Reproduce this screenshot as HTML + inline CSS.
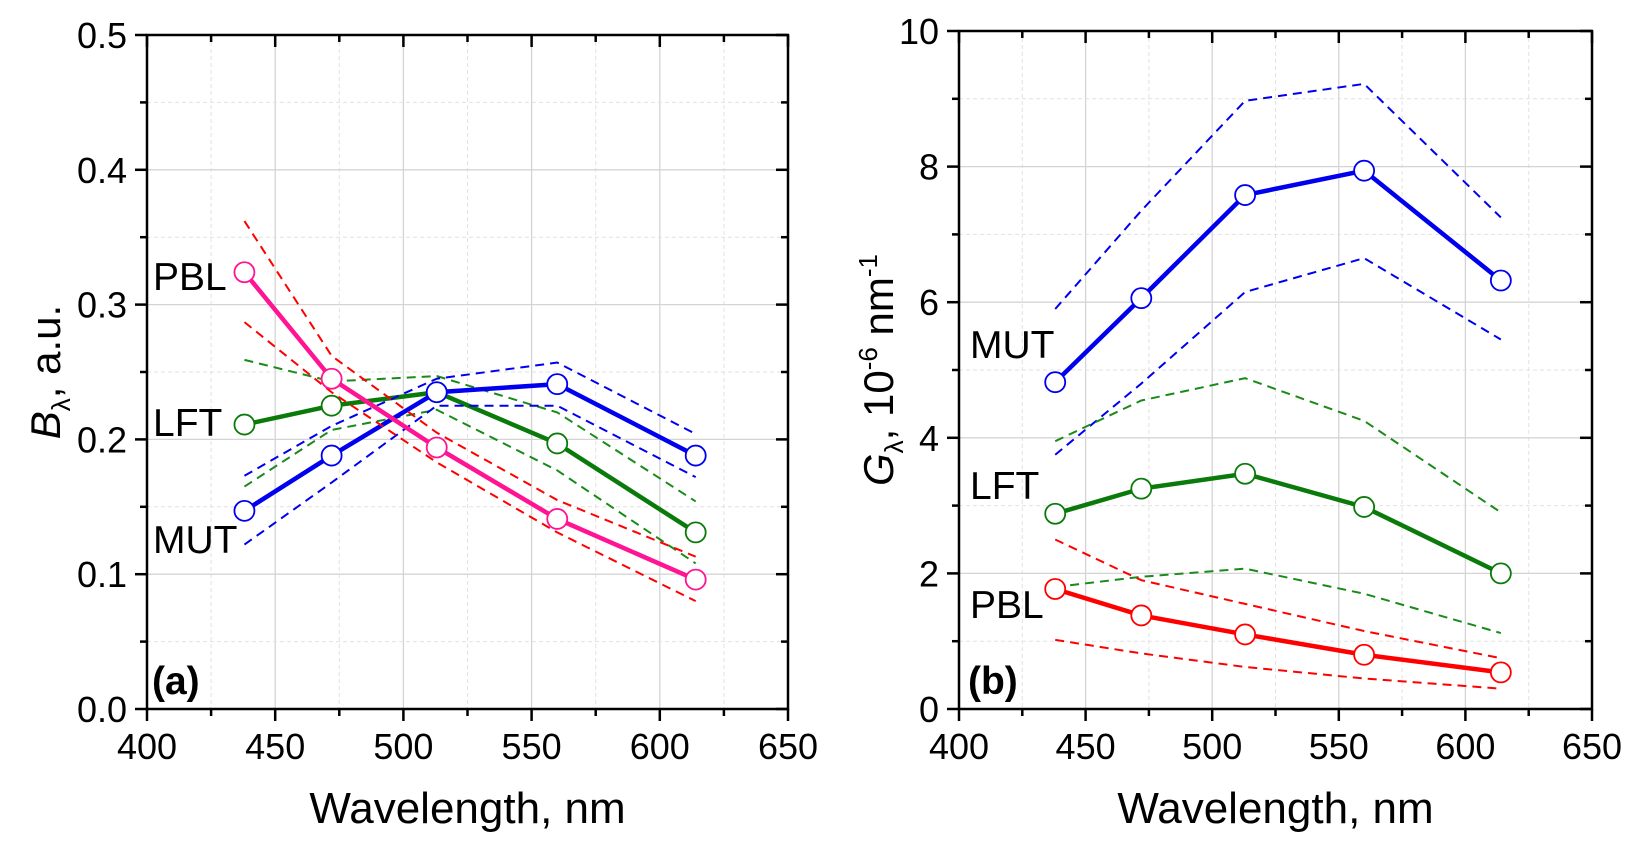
<!DOCTYPE html>
<html><head><meta charset="utf-8"><style>
body{margin:0;background:#fff}
svg{display:block;font-family:"Liberation Sans",Arial,sans-serif}
</style></head><body>
<svg id="chart" width="1635" height="851" viewBox="0 0 1635 851"></svg>
<script>
const wl=[438,472,513,560,614];
const aPBL=[0.324,0.245,0.194,0.141,0.096];
const aPBLhi=[0.362,0.262,0.205,0.155,0.113];
const aPBLlo=[0.287,0.235,0.183,0.131,0.080];
const aLFT=[0.211,0.225,0.235,0.197,0.131];
const aLFThi=[0.259,0.243,0.247,0.220,0.154];
const aLFTlo=[0.165,0.207,0.222,0.177,0.108];
const aMUT=[0.147,0.188,0.235,0.241,0.188];
const aMUThi=[0.173,0.210,0.245,0.257,0.204];
const aMUTlo=[0.122,0.168,0.225,0.225,0.172];
const bMUT=[4.82,6.06,7.58,7.94,6.32];
const bMUThi=[5.9,7.35,8.97,9.22,7.25];
const bMUTlo=[3.75,4.8,6.15,6.65,5.45];
const bLFT=[2.88,3.25,3.47,2.98,2.0];
const bLFThi=[3.95,4.55,4.88,4.25,2.9];
const bLFTlo=[1.8,1.95,2.07,1.7,1.12];
const bPBL=[1.77,1.38,1.1,0.8,0.54];
const bPBLhi=[2.5,1.9,1.55,1.15,0.75];
const bPBLlo=[1.02,0.82,0.62,0.45,0.3];
const xTicks=[400,450,500,550,600,650];
const aYTicks=["0.0","0.1","0.2","0.3","0.4","0.5"];
const bYTicks=["0","2","4","6","8","10"];

const NS="http://www.w3.org/2000/svg";
const svg=document.getElementById('chart');
function mk(tag,attrs,parent,text){const e=document.createElementNS(NS,tag);for(const k in attrs)e.setAttribute(k,attrs[k]);if(text!==undefined)e.textContent=text;(parent||svg).appendChild(e);return e;}

function panel(p){
  const g=mk('g',{});
  
  
  const X=v=>p.x0+(v-400)/250*(p.x1-p.x0);
  const Y=v=>p.y0-(v/p.ymax)*(p.y0-p.y1);
  for(let v=400;v<=650;v+=25){const maj=(v%50===0);if(v===400||v===650)continue;
    mk('line',{x1:X(v),x2:X(v),y1:p.y1,y2:p.y0,stroke:maj?'#d4d4d4':'#e2e2e2','stroke-width':maj?1.3:1,'stroke-dasharray':maj?'':'4,3'},g);}
  for(let i=1;i<10;i++){const v=p.ymax*i/10;const maj=i%2===0;
    mk('line',{x1:p.x0,x2:p.x1,y1:Y(v),y2:Y(v),stroke:maj?'#d4d4d4':'#e2e2e2','stroke-width':maj?1.3:1,'stroke-dasharray':maj?'':'4,3'},g);}
  mk('rect',{x:p.x0,y:p.y1,width:p.x1-p.x0,height:p.y0-p.y1,fill:'none',stroke:'#000','stroke-width':2.5},g);
  for(let v=400;v<=650;v+=25){const L=v%50===0?12:7;
    mk('line',{x1:X(v),x2:X(v),y1:p.y0,y2:p.y0+L,stroke:'#000','stroke-width':2.5},g);
    mk('line',{x1:X(v),x2:X(v),y1:p.y1,y2:p.y1+L,stroke:'#000','stroke-width':2.5},g);}
  for(let i=0;i<=10;i++){const v=p.ymax*i/10;const L=i%2===0?12:7;
    mk('line',{x1:p.x0-L,x2:p.x0,y1:Y(v),y2:Y(v),stroke:'#000','stroke-width':2.5},g);
    mk('line',{x1:p.x1-L,x2:p.x1,y1:Y(v),y2:Y(v),stroke:'#000','stroke-width':2.5},g);}
  xTicks.forEach(v=>{const t=mk('text',{x:X(v),y:p.y0+50,'font-size':36,'text-anchor':'middle'},g,String(v));
    });
  p.yTicks.forEach((s,i)=>{const t=mk('text',{x:p.x0-20,y:Y(p.ymax*i/5)+13,'font-size':36,'text-anchor':'end'},g,s);
    });
  const xt=mk('text',{x:(p.x0+p.x1)/2,y:p.y0+114,'font-size':44,'text-anchor':'middle'},g,'Wavelength, nm');
  
  const yt=mk('text',{transform:`translate(${p.ytx},${(p.y0+p.y1)/2}) rotate(-90)`,'font-size':42,'text-anchor':'middle'},g);
  
  yt.innerHTML=p.ytitle;
  p.series.forEach(s=>{
    const pts=a=>a.map((v,i)=>X(wl[i])+','+Y(v)).join(' ');
    [s.hi,s.lo].forEach(a=>{const l=mk('polyline',{points:pts(a),fill:'none',stroke:s.dash,'stroke-width':2,'stroke-dasharray':'9,6'},g);
      });
    const l=mk('polyline',{points:pts(s.v),fill:'none',stroke:s.c,'stroke-width':4.5},g);
    
    s.v.forEach((v,i)=>{const c=mk('circle',{cx:X(wl[i]),cy:Y(v),r:10,fill:'#fff',stroke:s.c,'stroke-width':1.8},g);
      });
  });
  p.labels.forEach(L=>{const t=mk('text',{x:L[1],y:L[2],'font-size':39,'font-weight':L[3]||'normal'},g,L[0]);
    });
}
panel({name:'panel-a',x0:147,x1:788,y0:709,y1:35,ymax:0.5,yTicks:aYTicks,ytx:60,
  ytitle:'<tspan font-style="italic">B</tspan><tspan font-size="26" dy="10">λ</tspan><tspan dy="-10">, a.u.</tspan>',
  series:[
   {id:'a-lft',v:aLFT,hi:aLFThi,lo:aLFTlo,c:'#0a7a0a',dash:'#1a8a1a'},
   {id:'a-mut',v:aMUT,hi:aMUThi,lo:aMUTlo,c:'#0000ee',dash:'#0000ee'},
   {id:'a-pbl',v:aPBL,hi:aPBLhi,lo:aPBLlo,c:'#ff1493',dash:'#ff0000'}],
  labels:[['PBL',153,290],['LFT',153,436],['MUT',153,553],['(a)',152,694,'bold']]});
panel({name:'panel-b',x0:959,x1:1592,y0:709,y1:31,ymax:10,yTicks:bYTicks,ytx:893,
  ytitle:'<tspan font-style="italic">G</tspan><tspan font-size="26" dy="10">λ</tspan><tspan dy="-10">, 10</tspan><tspan font-size="26" dy="-16">-6</tspan><tspan dy="16"> nm</tspan><tspan font-size="26" dy="-16">-1</tspan>',
  series:[
   {id:'b-mut',v:bMUT,hi:bMUThi,lo:bMUTlo,c:'#0000ee',dash:'#0000ee'},
   {id:'b-lft',v:bLFT,hi:bLFThi,lo:bLFTlo,c:'#0a7a0a',dash:'#1a8a1a'},
   {id:'b-pbl',v:bPBL,hi:bPBLhi,lo:bPBLlo,c:'#ff0000',dash:'#ff0000'}],
  labels:[['MUT',970,358],['LFT',970,499],['PBL',970,618],['(b)',968,694,'bold']]});
</script>
</body></html>
